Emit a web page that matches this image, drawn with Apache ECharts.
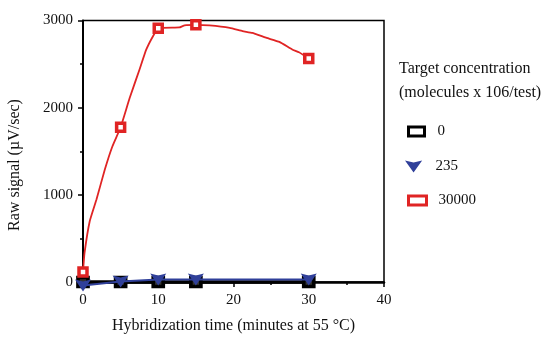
<!DOCTYPE html>
<html>
<head>
<meta charset="utf-8">
<script src="https://cdn.jsdelivr.net/npm/echarts@6/dist/echarts.min.js"></script>
<style>
  html, body { margin: 0; padding: 0; background: #fff; }
  #chart { width: 555px; height: 339px; }
</style>
</head>
<body>
<div id="chart"></div>
<script>
// Hybridization time course: raw signal for three target concentrations.
const xTicks = [0, 10, 20, 30, 40];
const yTicks = [0, 1000, 2000, 3000];

// measured points (minutes, µV/sec)
const times = [0, 5, 10, 15, 30];
const signal0 = [0, 0, 0, 0, 0];
const signal235 = [-40, 5, 30, 30, 30];
const signal30000 = [115, 1775, 2910, 2950, 2565];

// fitted trace for the 30000 series
const fitTimes = [0, 0.2, 0.9, 1.8, 2.9, 3.9, 5, 6.2, 7.5, 8.4, 9.3, 10, 12.8, 13.5, 15, 16.8, 19.5, 21.2, 22.5, 24.4, 26.1, 27.8, 28.7, 30];
const fitSignal = [115, 330, 700, 950, 1290, 1555, 1775, 2110, 2435, 2665, 2820, 2910, 2920, 2945, 2950, 2943, 2915, 2878, 2858, 2800, 2755, 2668, 2636, 2565];

const legendTitle = ['Target concentration', '(molecules x 106/test)'];
const seriesNames = ['0', '235', '30000'];

const FONT = 'Liberation Serif';
const RED = '#e02424';
const BLUE = '#30409a';
const arrowHead = 'path://M0,0 L5,1.2 L10,0 L5,7 Z';

const pairs = (xs, ys) => xs.map((x, i) => [x, ys[i]]);

const chart = echarts.init(document.getElementById('chart'), null, { renderer: 'canvas' });

const legendItem = (left, top, name, icon, w, h, style, pad) => ({
  orient: 'vertical', left, top, data: [name], icon,
  itemWidth: w, itemHeight: h, itemStyle: style, selectedMode: false,
  textStyle: { fontFamily: FONT, fontSize: 15, color: '#111', padding: [0, 0, 0, pad] }
});

chart.setOption({
  animation: false,
  backgroundColor: '#fff',
  title: {
    text: legendTitle.join('\n'),
    left: 394,
    top: 52,
    textStyle: { fontFamily: FONT, fontSize: 16, fontWeight: 'normal', color: '#111', lineHeight: 24 }
  },
  legend: [
    legendItem(402, 119, seriesNames[0], 'rect', 16, 9,
      { color: '#fff', borderColor: '#000', borderWidth: 3 }, 8),
    legendItem(400, 154, seriesNames[1], arrowHead, 20, 12,
      { color: BLUE, borderWidth: 0 }, 7),
    legendItem(402, 188, seriesNames[2], 'rect', 18, 9,
      { color: '#fff', borderColor: RED, borderWidth: 3 }, 7)
  ],
  grid: {
    left: 83, right: 171, top: 20.5, bottom: 57,
    show: true, borderColor: '#000', borderWidth: 1.5, backgroundColor: 'transparent'
  },
  xAxis: {
    type: 'value', min: xTicks[0], max: xTicks[xTicks.length - 1], interval: 10,
    name: 'Hybridization time (minutes at 55 °C)',
    nameLocation: 'middle', nameGap: 36,
    nameTextStyle: { fontFamily: FONT, fontSize: 16, color: '#111' },
    axisLine: { onZero: false, lineStyle: { color: '#000', width: 2.5 } },
    axisTick: { show: true, inside: false, length: 5, lineStyle: { color: '#000', width: 1.5 } },
    minorTick: { show: true, splitNumber: 2, length: 3, lineStyle: { color: '#000', width: 1.5 } },
    axisLabel: { fontFamily: FONT, fontSize: 15, color: '#111', margin: 11 },
    splitLine: { show: false }
  },
  yAxis: {
    type: 'value', min: yTicks[0], max: yTicks[yTicks.length - 1], interval: 1000,
    axisLine: { show: true, lineStyle: { color: '#000', width: 2 } },
    axisTick: { show: true, inside: false, length: 5, lineStyle: { color: '#000', width: 1.5 } },
    minorTick: { show: true, splitNumber: 2, length: 3, lineStyle: { color: '#000', width: 1.5 } },
    axisLabel: { fontFamily: FONT, fontSize: 15, color: '#111', margin: 10, formatter: v => String(v) },
    splitLine: { show: false }
  },
  graphic: [{
    type: 'text',
    x: 15, y: 165, rotation: Math.PI / 2,
    style: {
      text: 'Raw signal (µV/sec)',
      fontFamily: FONT, fontSize: 16, fill: '#111',
      textAlign: 'center', textVerticalAlign: 'middle'
    }
  }],
  series: [
    {
      name: seriesNames[2] + ' fit', type: 'line', data: pairs(fitTimes, fitSignal),
      showSymbol: false, symbol: 'none', smooth: 0.12, clip: false,
      lineStyle: { color: RED, width: 1.8 }, z: 3
    },
    {
      name: seriesNames[0], type: 'line', data: pairs(times, signal0),
      symbol: 'rect', symbolSize: [10, 9], clip: false,
      lineStyle: { color: '#000', width: 3.5 },
      itemStyle: { color: '#333', borderColor: '#000', borderWidth: 3.5 }, z: 4
    },
    {
      name: seriesNames[1], type: 'line', data: pairs(times, signal235),
      symbol: arrowHead, symbolSize: [16, 12], clip: false,
      lineStyle: { color: BLUE, width: 2 },
      itemStyle: { color: BLUE, borderWidth: 0 }, z: 5
    },
    {
      name: seriesNames[2], type: 'line', data: pairs(times, signal30000),
      symbol: 'rect', symbolSize: 8, clip: false,
      lineStyle: { width: 0, opacity: 0 },
      itemStyle: { color: '#fff', borderColor: RED, borderWidth: 3.5 }, z: 6
    }
  ]
});
</script>
</body>
</html>
